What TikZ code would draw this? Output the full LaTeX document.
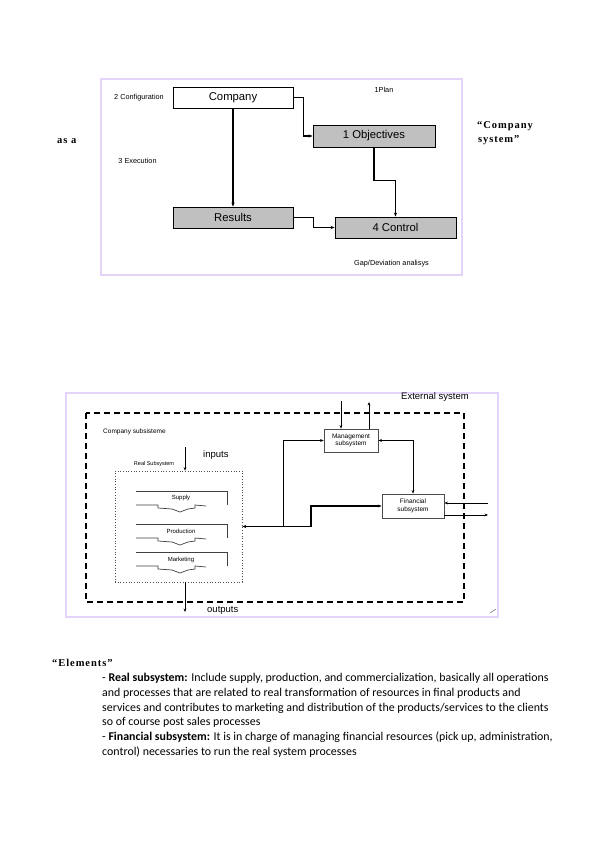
\documentclass[tikz,border=0pt]{standalone}
\usepackage{fontspec}
\setmainfont{Liberation Sans}
\newfontfamily\bodyfont{Carlito}
\newfontfamily\serifb[LetterSpace=9]{Liberation Serif}
\usetikzlibrary{arrows.meta,calc}
\definecolor{lav}{RGB}{228,212,250}
\definecolor{boxgray}{RGB}{192,192,192}
\tikzset{
  frame/.style={draw=lav,line width=2.6},
  whitebox/.style={draw,line width=0.9,fill=white,minimum width=120,minimum height=21,inner sep=0,font=\fontsize{11.3}{12}\selectfont},
  graybox/.style={whitebox,fill=boxgray},
  arr/.style={-{Stealth[length=4,width=3.2]},line width=1.1},
  thinarr/.style={-{Stealth[length=3.5,width=2.8]},line width=0.8},
  smalllabel/.style={inner sep=0,font=\fontsize{7.3}{8}\selectfont},
  sublabel/.style={inner sep=0,font=\fontsize{9.5}{10}\selectfont},
  subbox/.style={draw=black!70,line width=0.7,fill=white,inner sep=0,align=center,font=\fontsize{6.5}{7.5}\selectfont},
  blk/.style={draw=black!75,line width=0.7},
  blktext/.style={inner sep=0,font=\fontsize{6}{7}\selectfont},
  bodyline/.style={anchor=base west,inner sep=0,font=\bodyfont\fontsize{11.9}{13}\selectfont},
  serifhead/.style={inner sep=0,font=\serifb\bfseries\fontsize{10.5}{12}\selectfont}
}
\newcommand\pblock[4]{% top y, node name, label, text y
  \draw[blk] (136,#1) -- (227,#1) -- (227,#1+14);
  \draw[blk] (136,#1+14) -- (158,#1+14) -- (158,#1+17) -- (172,#1+18) -- (180,#1+21) -- (188,#1+18) -- (195,#1+17) -- (195,#1+14) -- (206,#1+15);
  \node[blktext] (#2) at (181,#4) {#3};
}
\begin{document}
\begin{tikzpicture}[x=1pt,y=-1pt]
\useasboundingbox (0,0) rectangle (599,848);
\fill[white] (0,0) rectangle (599,848);

% ---------- top diagram ----------
\draw[frame] (101,79) rectangle (462,275);
\node[whitebox] (company) at (233,97.5) {Company};
\node[graybox,minimum width=122,minimum height=22] (objectives) at (374,136) {1 Objectives};
\node[graybox] (results) at (233,217.5) {Results};
\node[graybox,minimum width=121] (control) at (395.5,227.5) {4 Control};

\draw[arr] (company.east) -- ++(10,0) |- (objectives.west);
\draw[arr] (company.south) -- (results.north);
\draw[arr] (objectives.south) -- ++(0,33) -| (control.north);
\draw[arr] (results.east) -- ++(20,0) |- (control.west);

\node[smalllabel] (plan) at (384,90) {1Plan};
\node[smalllabel] (config) at (139,98) {2 Configuration};
\node[smalllabel] (exec) at (137.5,161) {3 Execution};
\node[smalllabel] (gap) at (391.5,264) {Gap/Deviation analisys};

\node[serifhead,anchor=west] (asa) at (57,141) {as a};
\node[serifhead,anchor=west] (cs1) at (477,126) {“Company};
\node[serifhead,anchor=west] (cs2) at (478,140) {system”};

% ---------- bottom diagram ----------
\draw[frame] (66,393) rectangle (498,617);
\draw[line width=1.3,dash pattern=on 6 off 4] (86,413) rectangle (464,602);
\draw[black!60,line width=0.5] (490,613) -- (496,609);

\node[sublabel] (ext) at (435,397) {External system};
\node[inner sep=0,anchor=west,font=\fontsize{6.5}{7}\selectfont] (csub) at (103,432) {Company subsisteme};
\node[sublabel,anchor=west] (inputs) at (203,455) {inputs};
\node[sublabel,anchor=west] (outputs) at (207,610) {outputs};
\node[inner sep=0,font=\fontsize{5.5}{6}\selectfont] (reallab) at (154,464) {Real Subsystem};

\node[draw=black!70,dotted,line width=0.7,minimum width=127,minimum height=111,inner sep=0] (real) at (178.5,526.5) {};
\pblock{491}{supply}{Supply}{498}
\pblock{524}{production}{Production}{531}
\pblock{552}{marketing}{Marketing}{559.5}

\node[subbox,minimum width=54,minimum height=23] (mgmt) at (351,440.5) {Management\\subsystem};
\node[subbox,minimum width=62,minimum height=24,line width=0.9] (fin) at (413,506) {Financial\\subsystem};

\coordinate (inp) at (185,447);
\draw[thinarr] (inp) -- (inp |- real.north);
\coordinate (outp) at (185,612);
\draw[thinarr] (outp |- real.south) -- (outp);

\coordinate (min) at (341,401);
\draw[thinarr] (min) -- (min |- mgmt.north);
\coordinate (mout) at (369,402);
\draw[thinarr] (mout |- mgmt.north) -- (mout);

\coordinate (finin) at (488,503);
\draw[thinarr] (finin) -- (finin -| fin.east);
\coordinate (finout) at (488,515);
\draw[thinarr] (finout -| fin.east) -- (finout);

\draw[thinarr,{Stealth[length=3.5,width=2.8]}-{Stealth[length=3.5,width=2.8]}] (mgmt.east) -| (fin.north);

\coordinate (j1) at (283,526.5);
\coordinate (j2) at (311,526.5);
\draw[arr,line width=1.4] (j2) -- (real.east);
\draw[thinarr] (j1) |- (mgmt.west);
\draw[thinarr,line width=1.2] (j2) |- (fin.west);

% ---------- text ----------
\node[serifhead,anchor=base west] (elements) at (52,666) {“Elements”};
\node[bodyline] (l1) at (102,681) {- \textbf{Real subsystem:} Include supply, production, and commercialization, basically all operations};
\node[bodyline] (l2) at (102,696) {and processes that are related to real transformation of resources in final products and};
\node[bodyline] (l3) at (102,711) {services and contributes to marketing and distribution of the products/services to the clients};
\node[bodyline] (l4) at (102,725.5) {so of course post sales processes};
\node[bodyline] (l5) at (102,740.5) {- \textbf{Financial subsystem:} It is in charge of managing financial resources (pick up, administration,};
\node[bodyline] (l6) at (102,755.5) {control) necessaries to run the real system processes};
\end{tikzpicture}
\end{document}
